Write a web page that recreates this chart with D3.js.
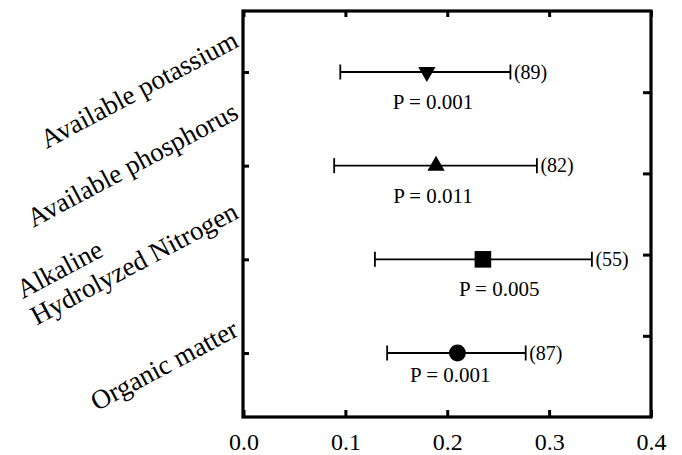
<!DOCTYPE html>
<html>
<head>
<meta charset="utf-8">
<script src="https://cdn.jsdelivr.net/npm/d3@7"></script>
<style>
  html, body { margin: 0; padding: 0; background: #fff; }
  svg { display: block; }
  text { font-family: "Liberation Serif", "Times New Roman", serif; fill: #000; }
</style>
</head>
<body>
<svg id="chart" width="682" height="455"></svg>
<script>
// ---- data ----
const categories = ["Available potassium", "Available phosphorus", "Alkaline\nHydrolyzed Nitrogen", "Organic matter"];
const means = [0.180, 0.189, 0.235, 0.210];
const lower = [0.095, 0.089, 0.129, 0.141];
const upper = [0.262, 0.288, 0.342, 0.277];
const nLabels = ["(89)", "(82)", "(55)", "(87)"];
const pLabels = ["P = 0.001", "P = 0.011", "P = 0.005", "P = 0.001"];
const markerTypes = ["triangleDown", "triangleUp", "square", "circle"];
const xTicks = [0.0, 0.1, 0.2, 0.3, 0.4];
const rightTicks = [1, 2, 3, 4];

// ---- layout (not data) ----
const frame = { left: 243, right: 651, top: 11, bottom: 417 };
const rowTop = 72, rowBottom = 353;
const labelEndDy = [-26, -48, -42, -18];   // label baseline end offset from tick
const labelEndX = 240;
const labelAngle = -28;
const labelFont = 27;
const pLabelX = [0.186, 0.186, 0.251, 0.203]; // in data units
const pLabelDy = [36.5, 37, 36.7, 29];

const svg = d3.select("#chart");

const x = d3.scaleLinear().domain([0, 0.4]).range([frame.left + 0.5, frame.right]);
const y = d3.scalePoint().domain(categories).range([rowTop, rowBottom]);
const yRight = d3.scaleLinear().domain([0, 5]).range([frame.bottom, frame.top]);

// axes
const gBottom = svg.append("g").attr("transform", `translate(0,${frame.bottom})`)
  .call(d3.axisBottom(x).tickValues(xTicks).tickFormat(d3.format(".1f")).tickSize(-7).tickPadding(16));
const gTop = svg.append("g").attr("transform", `translate(0,${frame.top})`)
  .call(d3.axisTop(x).tickValues(xTicks).tickFormat("").tickSize(-6));
const gLeft = svg.append("g").attr("transform", `translate(${frame.left},0)`)
  .call(d3.axisLeft(y).tickFormat("").tickSize(-6));
const gRight = svg.append("g").attr("transform", `translate(${frame.right},0)`)
  .call(d3.axisRight(yRight).tickValues(rightTicks).tickFormat("").tickSize(-8));

[gBottom, gTop, gLeft, gRight].forEach(g => {
  g.select(".domain").remove();
  g.selectAll(".tick line").attr("stroke", "#000").attr("stroke-width", 3);
});
gBottom.selectAll(".tick text")
  .attr("font-size", 24)
  .attr("font-family", "Liberation Serif, Times New Roman, serif")
  .attr("fill", "#000");

// frame
svg.append("rect")
  .attr("x", frame.left).attr("y", frame.top)
  .attr("width", frame.right - frame.left).attr("height", frame.bottom - frame.top)
  .attr("fill", "none").attr("stroke", "#000").attr("stroke-width", 3.2);

// category labels
categories.forEach((c, i) => {
  const lines = c.split("\n");
  const g = svg.append("g")
    .attr("transform", `translate(${labelEndX},${y(c) + labelEndDy[i]}) rotate(${labelAngle})`);
  const last = g.append("text")
    .attr("text-anchor", "end")
    .attr("font-size", labelFont)
    .text(lines[lines.length - 1]);
  if (lines.length > 1) {
    const w = last.node().getComputedTextLength();
    lines.slice(0, -1).reverse().forEach((l, k) => {
      g.append("text")
        .attr("text-anchor", "start")
        .attr("x", -w)
        .attr("y", -30 * (k + 1))
        .attr("font-size", labelFont)
        .text(l);
    });
  }
});

// error bars
const capH = 7.5;
const rows = categories.map((c, i) => ({ c, i, m: means[i], lo: lower[i], hi: upper[i] }));
const gBars = svg.append("g");
rows.forEach(r => {
  const yy = y(r.c);
  gBars.append("line").attr("x1", x(r.lo)).attr("x2", x(r.hi)).attr("y1", yy).attr("y2", yy)
    .attr("stroke", "#000").attr("stroke-width", 1.8);
  [r.lo, r.hi].forEach(v => {
    gBars.append("line").attr("x1", x(v)).attr("x2", x(v)).attr("y1", yy - capH).attr("y2", yy + capH)
      .attr("stroke", "#000").attr("stroke-width", 1.8);
  });
  // markers
  let sym, size, rot = 0;
  if (markerTypes[r.i] === "triangleDown") { sym = d3.symbolTriangle; size = 130; rot = 180; }
  else if (markerTypes[r.i] === "triangleUp") { sym = d3.symbolTriangle; size = 130; }
  else if (markerTypes[r.i] === "square") { sym = d3.symbolSquare; size = 275; }
  else { sym = d3.symbolCircle; size = 225; }
  gBars.append("path")
    .attr("d", d3.symbol().type(sym).size(size)())
    .attr("transform", `translate(${x(r.m)},${yy}) rotate(${rot})`)
    .attr("fill", "#000");
  // n labels
  gBars.append("text")
    .attr("x", x(r.hi) + 3.5).attr("y", yy)
    .attr("dy", "0.33em")
    .attr("font-size", 20)
    .text(nLabels[r.i]);
  // p labels
  gBars.append("text")
    .attr("x", x(pLabelX[r.i])).attr("y", yy + pLabelDy[r.i])
    .attr("text-anchor", "middle")
    .attr("font-size", 21)
    .text(pLabels[r.i]);
});
</script>
</body>
</html>
